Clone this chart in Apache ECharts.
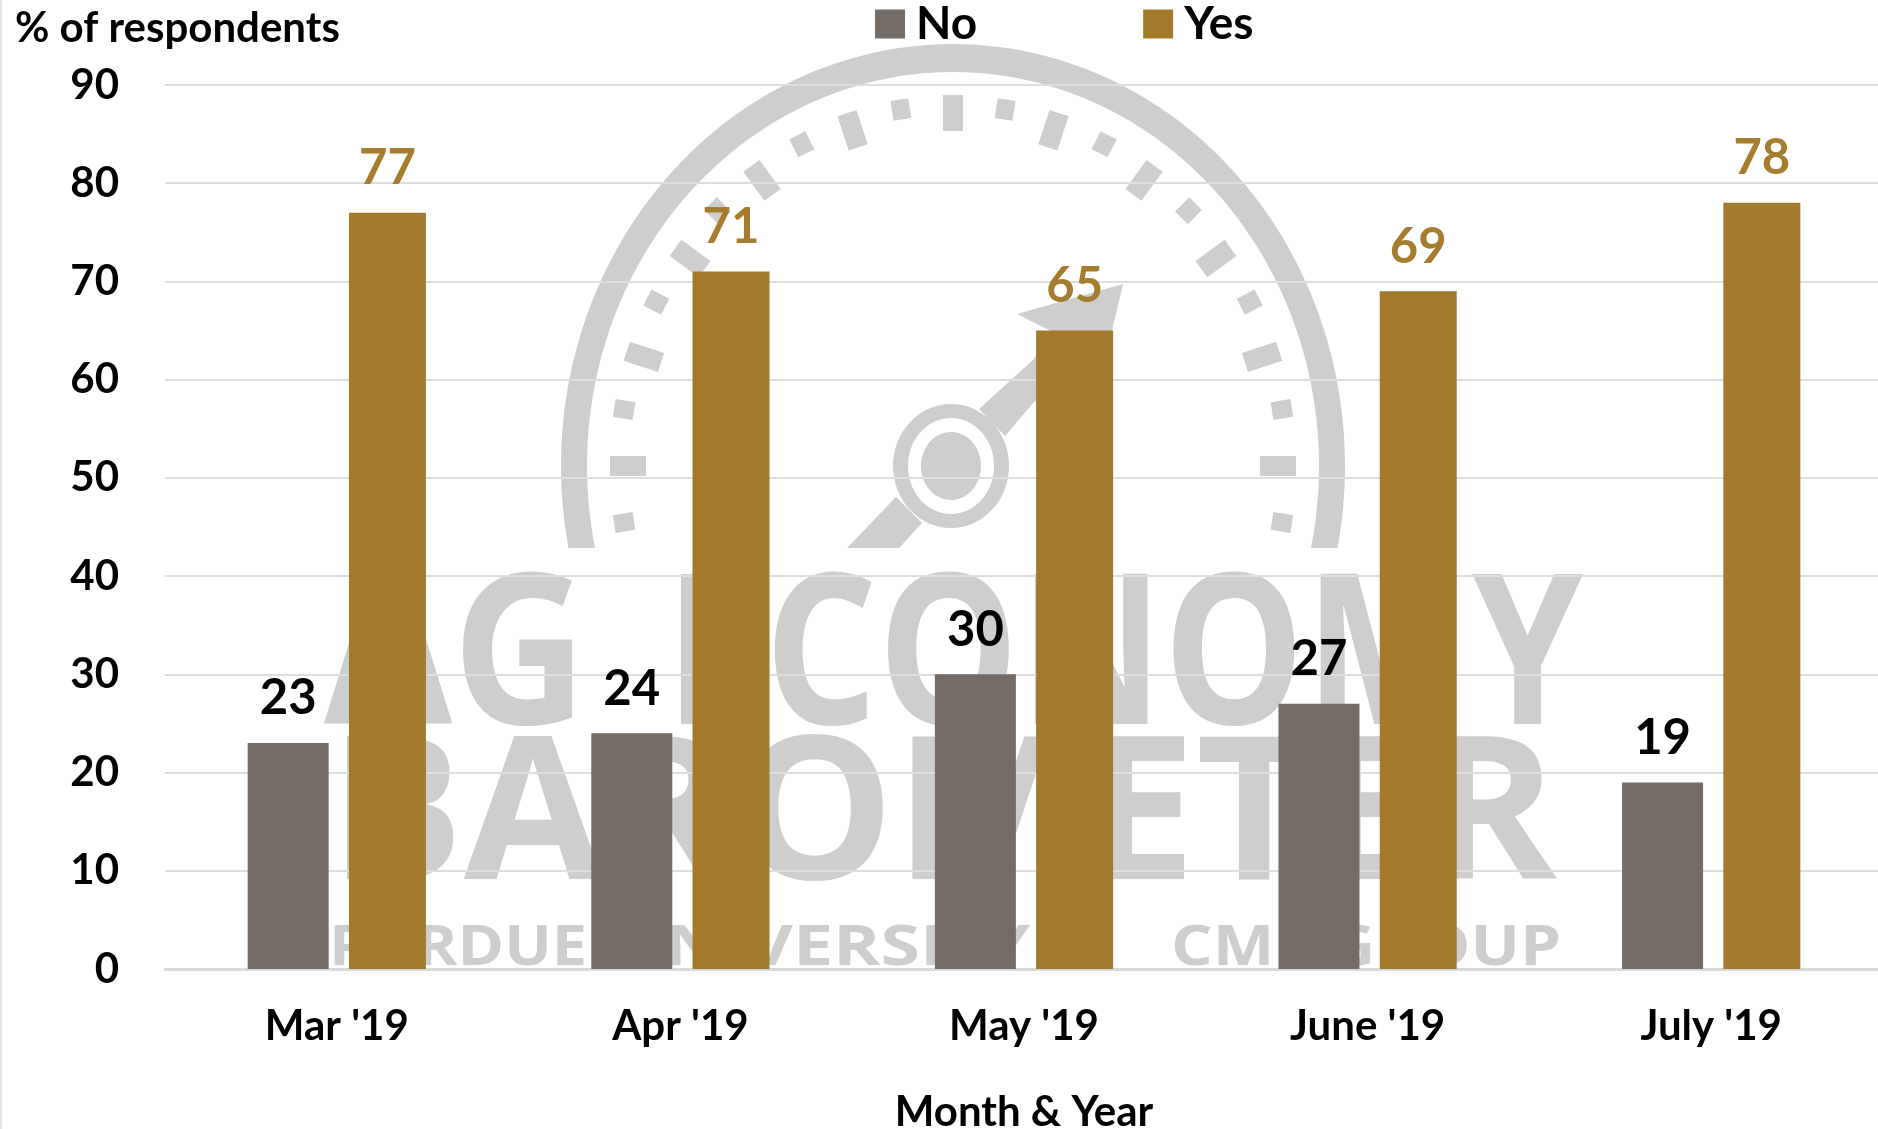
<!DOCTYPE html>
<html>
<head>
<meta charset="utf-8">
<title>% of respondents</title>
<script src="https://cdn.jsdelivr.net/npm/echarts@6/dist/echarts.min.js"></script>
<style>
html,body{margin:0;padding:0;background:#fff;}
#chart{width:1878px;height:1129px;}
</style>
</head>
<body>
<div id="chart"></div>
<script>
const categories = ["Mar '19", "Apr '19", "May '19", "June '19", "July '19"];
const noValues = [23, 24, 30, 27, 19];
const yesValues = [77, 71, 65, 69, 78];
const yTicks = [0, 10, 20, 30, 40, 50, 60, 70, 80, 90];

const fontName = 'Lato';
const wmColor = '#cecece';
const noColor = '#736b65';
const yesColor = '#a3792c';

// watermark behind the plot: gauge + wordmark, in page pixels
const gx = 953, gy = 466;
function ellipsePt(a, rx, ry) {
    let r = a * Math.PI / 180;
    return [gx + rx * Math.sin(r), gy - ry * Math.cos(r)];
}
function gaugeRing() {
    let pts = [];
    let bottom = 82;
    let outerEnd = Math.acos(-bottom / 422) * 180 / Math.PI;
    let innerEnd = Math.acos(-bottom / 394) * 180 / Math.PI;
    for (let i = 0; i <= 120; i++) {
        pts.push(ellipsePt(-outerEnd + i / 120 * 2 * outerEnd, 392, 422));
    }
    for (let i = 120; i >= 0; i--) {
        pts.push(ellipsePt(-innerEnd + i / 120 * 2 * innerEnd, 366, 394));
    }
    return pts;
}
function gaugeTick(a, len, halfW) {
    let p1 = ellipsePt(a, 343, 371);
    let p2 = ellipsePt(a, 343 - len, 371 - len);
    let dx = p2[0] - p1[0], dy = p2[1] - p1[1];
    let d = Math.sqrt(dx * dx + dy * dy);
    let nx = -dy / d * halfW, ny = dx / d * halfW;
    return [[p1[0] + nx, p1[1] + ny], [p1[0] - nx, p1[1] - ny], [p2[0] - nx, p2[1] - ny], [p2[0] + nx, p2[1] + ny]];
}
function poly(points) {
    return {type: 'polygon', z: -1, silent: true, shape: {points: points}, style: {fill: wmColor}};
}
function oval(rx, ry, fill) {
    return {type: 'ellipse', z: -1, silent: true, shape: {cx: 951, cy: 466, rx: rx, ry: ry}, style: {fill: fill}};
}
const measureCtx = document.createElement('canvas').getContext('2d');
function fitText(text, font, left, right, midY) {
    measureCtx.font = font;
    let w = measureCtx.measureText(text).width;
    return {
        type: 'text', z: -1, silent: true,
        x: left, y: midY, scaleX: (right - left) / w,
        style: {text: text, font: font, fill: wmColor, textAlign: 'left', textVerticalAlign: 'middle'}
    };
}

let watermark = [poly(gaugeRing())];
for (let i = -11; i <= 11; i++) {
    let major = i % 2 === 0;
    watermark.push(poly(gaugeTick(i * 9, major ? 36 : 20, major ? 10 : 9)));
}
watermark.push(poly([[979, 409], [1034, 359], [1051, 331], [1017, 314], [1123, 284], [1111, 335], [1034, 402], [1005, 436]]));
watermark.push(poly([[896, 497], [847, 548], [899, 548], [922, 523]]));
watermark.push(oval(58, 62, wmColor));
watermark.push(oval(43, 48, '#ffffff'));
watermark.push(oval(30, 34, wmColor));
watermark.push(fitText('AG', '700 210px "Open Sans"', 324, 587, 664));
watermark.push(fitText('ECONOMY', '700 210px "Open Sans"', 665, 1583, 664));
watermark.push(fitText('BAROMETER', '700 200px "Open Sans"', 329, 1557, 822));
watermark.push(fitText('PURDUE', '700 56px "Open Sans"', 329, 587, 949));
watermark.push(fitText('UNIVERSITY', '700 56px "Open Sans"', 610, 1030, 949));
watermark.push(fitText('CME GROUP', '700 56px "Open Sans"', 1171, 1561, 949));
// thin frame line on the left edge of the screenshot
watermark.push({type: 'rect', z: -1, silent: true, shape: {x: 0, y: 0, width: 2, height: 1129}, style: {fill: '#e2e2e2'}});

let chart = echarts.init(document.getElementById('chart'));
chart.setOption({
    animation: false,
    backgroundColor: '#ffffff',
    textStyle: {fontFamily: fontName},
    title: {
        text: '% of respondents',
        left: 10,
        top: 2,
        textStyle: {color: '#000', fontSize: 42, fontWeight: 700, fontFamily: fontName}
    },
    legend: {
        data: ['No', 'Yes'],
        left: 870,
        top: -4,
        icon: 'rect',
        itemWidth: 30,
        itemHeight: 29,
        itemGap: 166,
        textStyle: {color: '#000', fontSize: 46, fontWeight: 700, fontFamily: fontName, padding: [0, 0, 0, 6]}
    },
    grid: {left: 165, right: -5, top: 85, bottom: 160, outerBoundsMode: 'none'},
    xAxis: {
        type: 'category',
        data: categories,
        name: 'Month & Year',
        nameLocation: 'middle',
        nameGap: 122,
        nameTextStyle: {color: '#000', fontSize: 42, fontWeight: 700, fontFamily: fontName},
        axisTick: {show: false},
        axisLine: {lineStyle: {color: '#d9d9d9', width: 3}},
        axisLabel: {color: '#000', fontSize: 42, fontWeight: 700, fontFamily: fontName, margin: 36}
    },
    yAxis: {
        type: 'value',
        min: yTicks[0],
        max: yTicks[yTicks.length - 1],
        interval: yTicks[1] - yTicks[0],
        axisLine: {show: false},
        axisTick: {show: false},
        axisLabel: {color: '#000', fontSize: 42, fontWeight: 700, fontFamily: fontName, margin: 46},
        splitLine: {lineStyle: {color: '#dedede', width: 2}}
    },
    series: [{
        name: 'No',
        type: 'bar',
        barWidth: 81,
        barGap: '25%',
        itemStyle: {color: noColor},
        label: {show: true, position: 'top', distance: 20, color: '#000', fontSize: 49, fontWeight: 700, fontFamily: fontName},
        data: noValues
    }, {
        name: 'Yes',
        type: 'bar',
        barWidth: 77,
        itemStyle: {color: yesColor},
        label: {show: true, position: 'top', distance: 20, color: '#a67c2e', fontSize: 49, fontWeight: 700, fontFamily: fontName},
        data: yesValues
    }],
    graphic: {elements: watermark}
});
</script>
</body>
</html>
